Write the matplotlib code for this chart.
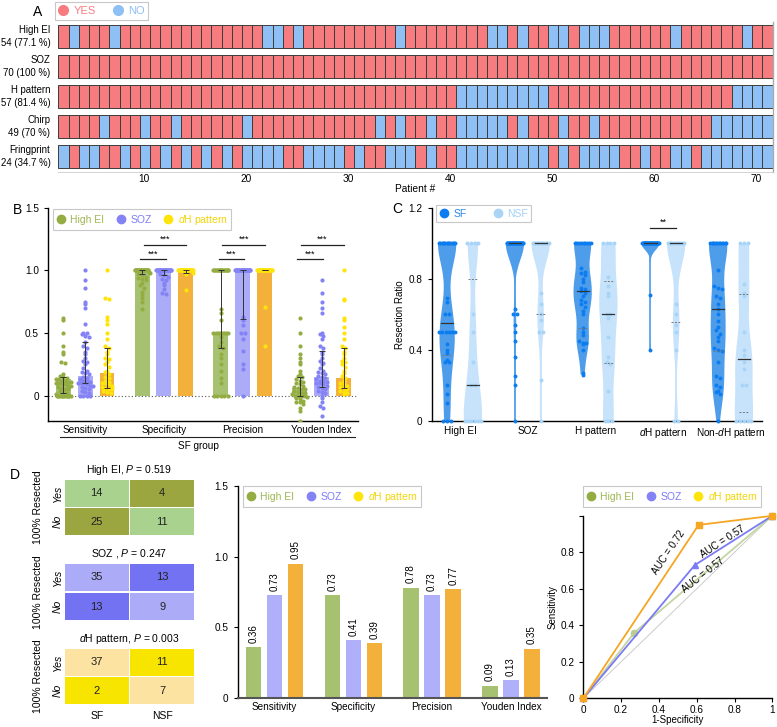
import numpy as np
import matplotlib
matplotlib.use('Agg')
import matplotlib.pyplot as plt
from matplotlib.lines import Line2D
from matplotlib.patches import Rectangle

plt.rcParams['font.family'] = ['Liberation Sans', 'DejaVu Sans']
plt.rcParams['mathtext.fontset'] = 'custom'
plt.rcParams['mathtext.rm'] = 'Liberation Sans'
plt.rcParams['mathtext.it'] = 'Liberation Sans:italic'
plt.rcParams['font.size'] = 7.2
plt.rcParams['axes.linewidth'] = 1.0
plt.rcParams['xtick.major.size'] = 3
plt.rcParams['ytick.major.size'] = 3
plt.rcParams['xtick.major.width'] = 0.8
plt.rcParams['ytick.major.width'] = 0.8

# ======================= DATA =======================
# Panel A: 1 = YES, 0 = NO, patients 1..70
patients = np.arange(1, 71)
a_rows = ['High EI', 'SOZ', 'H pattern', 'Chirp', 'Fringprint']
a_counts = ['54 (77.1 %)', '70 (100 %)', '57 (81.4 %)', '49 (70 %)', '24 (34.7 %)']
a_high_ei = [1,0,1,1,1,0,1,1,1,1, 1,1,1,1,1,1,1,1,1,1, 0,0,1,0,1,1,1,1,1,1,
             1,1,1,0,1,1,1,1,1,1, 1,1,0,0,1,0,1,1,0,0, 1,0,0,0,1,1,1,1,1,1,
             0,1,1,1,1,1,1,0,1,1]
a_soz = [1,1,1,1,1,1,1,1,1,1, 1,1,1,1,1,1,1,1,1,1, 1,1,1,1,1,1,1,1,1,1,
         1,1,1,1,1,1,1,1,1,1, 1,1,1,1,1,1,1,1,1,1, 1,1,1,1,1,1,1,1,1,1,
         1,1,1,1,1,1,1,1,1,1]
a_h_pattern = [1,1,1,1,1,1,1,1,1,1, 1,1,1,1,1,1,1,1,1,1, 1,1,1,1,1,1,1,1,1,1,
               1,1,1,1,1,1,1,1,1,0, 0,0,0,0,0,0,0,0,1,1, 1,1,1,1,1,1,1,1,1,1,
               1,1,1,1,1,1,0,0,0,0]
a_chirp = [1,1,1,1,0,1,1,1,0,1, 1,0,1,1,1,1,1,1,0,1, 1,1,1,1,1,1,1,1,1,1,
           1,0,1,0,1,1,0,1,1,0, 0,0,0,0,1,0,1,1,1,0, 1,1,0,1,1,1,1,1,1,1,
           1,1,1,1,0,0,0,0,0,0]
a_fringprint = [0,1,0,0,1,1,0,1,0,1, 0,1,0,1,0,1,0,1,0,0, 0,0,1,1,0,0,0,0,1,0,
                1,1,0,0,0,1,0,1,1,0, 0,0,0,0,0,0,0,0,1,0, 1,0,0,0,0,1,1,0,1,1,
                0,0,1,0,0,0,0,0,0,0]

# Panel B: SF group, per-patient metrics
b_metrics = ['Sensitivity', 'Specificity', 'Precision', 'Youden Index']
b_bar_ei = [0.13, 0.98, 0.50, 0.06]
b_bar_soz = [0.157, 1.0, 1.0, 0.15]
b_bar_dh = [0.183, 1.0, 1.0, 0.143]
b_err_lo_ei = [0.02, 0.97, 0.38, 0.0]
b_err_hi_ei = [0.15, 1.0, 1.0, 0.15]
b_err_lo_soz = [0.10, 0.96, 0.61, 0.07]
b_err_hi_soz = [0.43, 1.0, 1.0, 0.36]
b_err_lo_dh = [0.06, 0.98, 1.0, 0.06]
b_err_hi_dh = [0.38, 1.0, 1.0, 0.38]
sens_ei = [0.62, 0.6, 0.5, 0.4, 0.35, 0.33, 0.27, 0.26, 0.17, 0.16, 0.15, 0.14, 0.13, 0.13, 0.12,
           0.12, 0.11, 0.11, 0.1, 0.1, 0.1, 0.09, 0.09, 0.08, 0.08, 0.07, 0.06, 0.05, 0.05, 0.04,
           0.03, 0.02, 0.01, 0.0, 0.0, 0.0, 0.0, 0.0, 0.0, 0.0, 0.0, 0.0, 0.0, 0.0, 0.0]
sens_soz = [1.0, 0.92, 0.86, 0.75, 0.73, 0.7, 0.57, 0.5, 0.5, 0.49, 0.48, 0.47, 0.43, 0.4, 0.38,
            0.35, 0.33, 0.3, 0.28, 0.27, 0.25, 0.22, 0.2, 0.19, 0.18, 0.17, 0.15, 0.14, 0.13, 0.12,
            0.12, 0.11, 0.1, 0.1, 0.1, 0.09, 0.08, 0.08, 0.07, 0.06, 0.05, 0.04, 0.03, 0.02, 0.0,
            0.0, 0.0, 0.0]
sens_dh = [1.0, 0.78, 0.77, 0.63, 0.6, 0.57, 0.5, 0.45, 0.4, 0.38, 0.35, 0.33, 0.3, 0.29, 0.27,
           0.25, 0.23, 0.2, 0.19, 0.17, 0.15, 0.14, 0.12, 0.11, 0.1, 0.1, 0.09, 0.08, 0.07, 0.06,
           0.05, 0.05, 0.04, 0.03, 0.02]
spec_ei = [1.0, 1.0, 1.0, 1.0, 1.0, 1.0, 1.0, 1.0, 1.0, 1.0, 1.0, 1.0, 1.0, 1.0, 1.0, 1.0, 1.0,
           1.0, 1.0, 1.0, 1.0, 1.0, 1.0, 1.0, 1.0, 0.99, 0.98, 0.97, 0.96, 0.95, 0.94, 0.93, 0.92,
           0.9, 0.88, 0.86, 0.83, 0.8, 0.78, 0.75, 0.69]
spec_soz = [1.0, 1.0, 1.0, 1.0, 1.0, 1.0, 1.0, 1.0, 1.0, 1.0, 1.0, 1.0, 1.0, 1.0, 1.0, 1.0, 1.0,
            1.0, 1.0, 1.0, 1.0, 1.0, 1.0, 1.0, 1.0, 1.0, 1.0, 1.0, 1.0, 1.0, 0.97, 0.96, 0.95,
            0.93, 0.92, 0.9, 0.88, 0.85, 0.82, 0.81]
spec_dh = [1.0, 1.0, 1.0, 1.0, 1.0, 1.0, 1.0, 1.0, 1.0, 1.0, 1.0, 1.0, 1.0, 1.0, 1.0, 1.0, 1.0,
           1.0, 1.0, 1.0, 1.0, 1.0, 1.0, 1.0, 1.0, 1.0, 1.0, 1.0, 1.0, 1.0, 0.98, 0.97, 0.84]
prec_ei = [1.0, 1.0, 1.0, 1.0, 1.0, 1.0, 1.0, 1.0, 1.0, 1.0, 1.0, 1.0, 1.0, 1.0, 1.0, 1.0, 1.0,
           1.0, 0.69, 0.66, 0.6, 0.5, 0.5, 0.5, 0.5, 0.5, 0.5, 0.5, 0.5, 0.47, 0.43, 0.4, 0.38,
           0.33, 0.3, 0.25, 0.2, 0.14, 0.1, 0.0, 0.0, 0.0, 0.0, 0.0]
prec_soz = [1.0, 1.0, 1.0, 1.0, 1.0, 1.0, 1.0, 1.0, 1.0, 1.0, 1.0, 1.0, 1.0, 1.0, 1.0, 1.0, 1.0,
            1.0, 1.0, 1.0, 1.0, 1.0, 1.0, 1.0, 1.0, 1.0, 1.0, 1.0, 1.0, 1.0, 0.63, 0.6, 0.56, 0.5,
            0.5, 0.45, 0.36, 0.25, 0.21, 0.0]
prec_dh = [1.0, 1.0, 1.0, 1.0, 1.0, 1.0, 1.0, 1.0, 1.0, 1.0, 1.0, 1.0, 1.0, 1.0, 1.0, 1.0, 1.0,
           1.0, 1.0, 1.0, 1.0, 1.0, 1.0, 1.0, 1.0, 1.0, 1.0, 1.0, 1.0, 1.0, 0.71, 0.4]
youd_ei = [0.62, 0.5, 0.4, 0.33, 0.3, 0.27, 0.25, 0.2, 0.17, 0.16, 0.15, 0.13, 0.12, 0.11, 0.1,
           0.09, 0.08, 0.07, 0.06, 0.05, 0.05, 0.04, 0.03, 0.02, 0.02, 0.01, 0.0, 0.0, 0.0, 0.0,
           0.0, -0.01, -0.02, -0.03, -0.04, -0.05, -0.05, -0.07, -0.1, -0.12, -0.2]
youd_soz = [0.92, 0.82, 0.75, 0.7, 0.66, 0.5, 0.49, 0.48, 0.45, 0.4, 0.38, 0.35, 0.33, 0.3, 0.28,
            0.26, 0.25, 0.22, 0.2, 0.19, 0.18, 0.17, 0.16, 0.15, 0.14, 0.13, 0.12, 0.12, 0.11,
            0.1, 0.1, 0.09, 0.08, 0.07, 0.06, 0.05, 0.04, 0.03, 0.02, 0.0, -0.02, -0.05, -0.08,
            -0.1, -0.16]
youd_dh = [1.0, 0.77, 0.76, 0.62, 0.6, 0.55, 0.5, 0.45, 0.4, 0.38, 0.35, 0.33, 0.3, 0.28, 0.27,
           0.25, 0.23, 0.2, 0.18, 0.16, 0.14, 0.12, 0.1, 0.09, 0.08, 0.07, 0.06, 0.05, 0.04, 0.03,
           0.02, 0.01]

# Panel C: resection ratio
c_cats = ['High EI', 'SOZ', 'H pattern', r'$d$H pattern', r'Non-$d$H pattern']
rr_ei_sf = [1.0, 1.0, 1.0, 1.0, 1.0, 1.0, 1.0, 1.0, 1.0, 1.0, 1.0, 1.0, 1.0, 1.0, 0.69, 0.67,
            0.6, 0.6, 0.5, 0.5, 0.5, 0.5, 0.5, 0.5, 0.43, 0.4, 0.38, 0.34, 0.33, 0.33, 0.2,
            0.15, 0.1, 0.0, 0.0, 0.0]
rr_ei_nsf = [1.0, 1.0, 1.0, 1.0, 0.6, 0.5, 0.33, 0.2, 0.2, 0.0, 0.0, 0.0, 0.0, 0.0, 0.0]
rr_soz_sf = [1.0, 1.0, 1.0, 1.0, 1.0, 1.0, 1.0, 1.0, 1.0, 1.0, 1.0, 1.0, 1.0, 1.0, 1.0, 1.0, 1.0,
             1.0, 1.0, 1.0, 1.0, 1.0, 1.0, 1.0, 1.0, 1.0, 1.0, 1.0, 1.0, 1.0, 1.0, 1.0, 1.0, 1.0,
             1.0, 0.63, 0.6, 0.6, 0.54, 0.5, 0.45, 0.36, 0.25, 0.2, 0.0]
rr_soz_nsf = [1.0, 1.0, 1.0, 1.0, 1.0, 1.0, 1.0, 1.0, 1.0, 1.0, 1.0, 1.0, 1.0, 0.72, 0.66, 0.6,
              0.57, 0.5, 0.5, 0.23, 0.0]
rr_h_sf = [1.0, 1.0, 1.0, 1.0, 1.0, 1.0, 1.0, 1.0, 1.0, 1.0, 0.86, 0.84, 0.83, 0.82, 0.8, 0.78,
           0.75, 0.74, 0.73, 0.72, 0.7, 0.68, 0.67, 0.66, 0.64, 0.62, 0.6, 0.52, 0.5, 0.48, 0.45,
           0.44, 0.44, 0.43, 0.4, 0.27, 0.26]
rr_h_nsf = [1.0, 1.0, 1.0, 1.0, 0.81, 0.76, 0.72, 0.7, 0.6, 0.6, 0.58, 0.47, 0.36, 0.33, 0.32,
            0.17, 0.0, 0.0, 0.0]
rr_dh_sf = [1.0, 1.0, 1.0, 1.0, 1.0, 1.0, 1.0, 1.0, 1.0, 1.0, 1.0, 1.0, 1.0, 1.0, 1.0, 1.0, 1.0,
            1.0, 1.0, 1.0, 1.0, 1.0, 1.0, 1.0, 1.0, 1.0, 1.0, 1.0, 1.0, 1.0, 1.0, 1.0, 1.0, 1.0,
            1.0, 1.0, 1.0, 0.71, 0.4]
rr_dh_nsf = [1.0, 1.0, 1.0, 1.0, 1.0, 1.0, 1.0, 1.0, 1.0, 1.0, 1.0, 0.66, 0.6, 0.54, 0.5, 0.4,
             0.0, 0.0]
rr_ndh_sf = [1.0, 1.0, 1.0, 1.0, 1.0, 1.0, 1.0, 1.0, 1.0, 1.0, 1.0, 1.0, 0.85, 0.76, 0.75, 0.74,
             0.7, 0.69, 0.66, 0.63, 0.6, 0.56, 0.53, 0.51, 0.49, 0.47, 0.45, 0.41, 0.4, 0.39,
             0.33, 0.25, 0.24, 0.2, 0.19, 0.17, 0.16, 0.15, 0.0]
rr_ndh_nsf = [1.0, 1.0, 1.0, 0.77, 0.72, 0.7, 0.5, 0.4, 0.37, 0.33, 0.29, 0.2, 0.2, 0.0, 0.0,
              0.0, 0.0, 0.0]

# Panel D: contingency tables
d_tab_titles = [r'High EI, $P$ = 0.519', r'SOZ , $P$ = 0.247', r'$d$H pattern, $P$ = 0.003']
d_tab_ei = [[14, 4], [25, 11]]
d_tab_soz = [[35, 13], [13, 9]]
d_tab_dh = [[37, 11], [2, 7]]
d_cols = ['SF', 'NSF']
d_rows = ['Yes', 'No']

# Panel D: bar chart
d_bar_ei = [0.36, 0.73, 0.78, 0.09]
d_bar_soz = [0.73, 0.41, 0.73, 0.13]
d_bar_dh = [0.95, 0.39, 0.77, 0.35]

# Panel D: ROC
roc_fpr_ei = [0, 0.27, 1]
roc_tpr_ei = [0, 0.36, 1]
roc_fpr_soz = [0, 0.59, 1]
roc_tpr_soz = [0, 0.73, 1]
roc_fpr_dh = [0, 0.61, 1]
roc_tpr_dh = [0, 0.95, 1]
auc_labels = ['AUC = 0.57', 'AUC = 0.57', 'AUC = 0.72']

# ======================= STYLE =======================
RED, BLUE = '#F77C7F', '#8EBFF5'
G_BAR, S_BAR, O_BAR = '#A6C271', '#ABABF8', '#F3B13C'
G_DOT, S_DOT, Y_DOT = '#93AD43', '#8383F6', '#FFE40A'
G_TXT, S_TXT, Y_TXT = '#9DB651', '#7C7CF6', '#F2D60A'
SF_FILL, SF_DOT = '#4D9DEB', '#0B7DF0'
NSF_FILL, NSF_DOT = '#C6E3FB', '#A8D4F8'
lab3 = ['High EI', 'SOZ', r'$d$H pattern']

W, H = 777, 727
fig = plt.figure(figsize=(W / 100, H / 100), dpi=100)


def ax_px(l, t, r, b):
    return fig.add_axes([l / W, 1 - b / H, (r - l) / W, (b - t) / H])


def legend_px(ax, handles, labels, colors, x, y, fs=7.5, colsp=1.2):
    lg = ax.legend(handles, labels, loc='upper left', bbox_to_anchor=(x / W, 1 - y / H),
                   bbox_transform=fig.transFigure, ncol=len(labels), frameon=True,
                   fancybox=False, edgecolor='#C8C8C8', framealpha=1, fontsize=fs,
                   handlelength=0.8, handletextpad=0.5, columnspacing=colsp, borderpad=0.35,
                   borderaxespad=0)
    lg.get_frame().set_linewidth(0.8)
    for t, c in zip(lg.get_texts(), colors):
        t.set_color(c)
    return lg


def dot(c, m='o', ms=6):
    return Line2D([], [], marker=m, color=c, ls='none', ms=ms)


def swarm(vals, step, halfw, binw):
    vals = np.asarray(vals, float)
    offs = np.zeros(len(vals))
    keys = np.round(vals / binw).astype(int)
    for k in np.unique(keys):
        idx = np.where(keys == k)[0]
        n = len(idx)
        s = step if n < 2 or (n - 1) * step <= 2 * halfw else 2 * halfw / (n - 1)
        offs[idx] = (np.arange(n) - (n - 1) / 2) * s
    return offs


# ======================= PANEL A =======================
axA = ax_px(58.3, 21.5, 772.5, 171.5)
rows = [a_high_ei, a_soz, a_h_pattern, a_chirp, a_fringprint]
for r, vals in enumerate(rows):
    cols = [RED if v else BLUE for v in vals]
    axA.bar(patients + 1.1, 0.77, bottom=r - 0.385, width=1.0, color=cols,
            edgecolor='#3C3C3C', linewidth=0.7)
    axA.text(-0.011, r, a_rows[r] + '\n' + a_counts[r], transform=axA.get_yaxis_transform(),
             ha='right', va='center', multialignment='right', fontsize=6.9, linespacing=1.3)
axA.set_xlim(1.6, 71.6)
axA.set_ylim(4.5, -0.5)
axA.set_yticks([])
axA.set_xticks([10, 20, 30, 40, 50, 60, 70])
axA.tick_params(axis='x', length=0, pad=1.5, labelsize=7.3)
axA.set_xlabel('Patient #', fontsize=7.3, labelpad=0)
for s in ['top', 'left']:
    axA.spines[s].set_visible(False)
axA.spines['right'].set_color('#AAAAAA')
axA.spines['bottom'].set_color('#CCCCCC')
axA.spines['bottom'].set_linewidth(0.6)
legend_px(axA, [dot(RED, ms=7), dot(BLUE, ms=7)], ['YES', 'NO'], [RED, BLUE], 55, 2,
          fs=8, colsp=1.6)
fig.text(38 / W, 1 - 12 / H, 'A', fontsize=10, ha='center', va='center')

# ======================= PANEL B =======================
axB = ax_px(48, 207.6, 358, 420.8)
xg = np.arange(4)
off = 0.278
bw = 0.19
b_sets = [
    (b_bar_ei, b_err_lo_ei, b_err_hi_ei, [sens_ei, spec_ei, prec_ei, youd_ei], G_BAR, G_DOT, -off),
    (b_bar_soz, b_err_lo_soz, b_err_hi_soz, [sens_soz, spec_soz, prec_soz, youd_soz], S_BAR, S_DOT, 0),
    (b_bar_dh, b_err_lo_dh, b_err_hi_dh, [sens_dh, spec_dh, prec_dh, youd_dh], O_BAR, Y_DOT, off),
]
axB.axhline(0, color='#555555', lw=0.8, ls=(0, (1, 2)), zorder=1)
for bars, lo, hi, pts, bc, dc, o in b_sets:
    axB.bar(xg + o, bars, width=bw, color=bc, zorder=2)
    for i in range(4):
        v = np.asarray(pts[i])
        xo = swarm(v, 0.045, 0.095, 0.03)
        axB.scatter(xg[i] + o + xo, v, s=9, color=dc, zorder=3, linewidths=0)
    mid = np.asarray(bars)
    axB.errorbar(xg + o, mid, yerr=[np.clip(mid - np.asarray(lo), 0, None),
                                    np.clip(np.asarray(hi) - mid, 0, None)],
                 fmt='none', ecolor='#333333', elinewidth=0.7, capsize=2.5, capthick=0.7, zorder=4)
# significance brackets
for g in [1, 2, 3]:
    for (x0, x1, yy) in [(g - off - 0.03, g + 0.02, 1.09), (g - off + 0.02, g + off, 1.205)]:
        axB.plot([x0, x1], [yy, yy], color='#222222', lw=0.9, clip_on=False)
        axB.text((x0 + x1) / 2, yy + 0.005, '***', ha='center', va='bottom', fontsize=6.5)
axB.set_xlim(-0.47, 3.46)
axB.set_ylim(-0.2, 1.5)
axB.set_yticks([0, 0.5, 1.0, 1.5])
axB.set_yticklabels(['0', '0.5', '1.0', '1.5'])
axB.set_xticks(xg)
axB.set_xticklabels(b_metrics)
axB.tick_params(axis='x', length=0, pad=3)
axB.tick_params(axis='y', labelsize=7.2)
for s in ['top', 'right']:
    axB.spines[s].set_visible(False)
fig.add_artist(Line2D([60 / W, 355 / W], [1 - 437 / H, 1 - 437 / H], color='#222222', lw=0.8))
fig.text(198 / W, 1 - 446 / H, 'SF group', ha='center', va='center', fontsize=7.2)
legend_px(axB, [dot(G_DOT), dot(S_DOT), dot(Y_DOT)], lab3, [G_TXT, S_TXT, Y_TXT], 53, 209)
fig.text(17 / W, 1 - 210 / H, 'B', fontsize=10, ha='center', va='center')

# ======================= PANEL C =======================
axC = ax_px(431.7, 207.7, 762, 420.7)
c_data = [(rr_ei_sf, rr_ei_nsf), (rr_soz_sf, rr_soz_nsf), (rr_h_sf, rr_h_nsf),
          (rr_dh_sf, rr_dh_nsf), (rr_ndh_sf, rr_ndh_nsf)]
voff = 0.19
for i, (sf, nsf) in enumerate(c_data):
    for data, o, fc, dc in [(sf, -voff, SF_FILL, SF_DOT), (nsf, voff, NSF_FILL, NSF_DOT)]:
        d = np.asarray(data, float)
        parts = axC.violinplot([d], positions=[i + o], widths=0.27, showextrema=False,
                               bw_method=0.35)
        for b in parts['bodies']:
            b.set_facecolor(fc)
            b.set_edgecolor('none')
            b.set_alpha(1)
            b.set_zorder(2)
        axC.plot([i + o, i + o], [d.min(), d.max()], color=fc, lw=1.2, zorder=2)
        xo = swarm(d, 0.055, 0.12, 0.025)
        axC.scatter(i + o + xo, d, s=8, color=dc, zorder=3, linewidths=0, clip_on=False)
        med = np.median(d)
        q1, q3 = np.percentile(d, [25, 75])
        axC.plot([i + o - 0.09, i + o + 0.09], [med, med], color='#333333', lw=0.9, zorder=4)
        for q in (q1, q3):
            if 0 < q < 1:
                axC.plot([i + o - 0.07, i + o + 0.07], [q, q], color='#777777', lw=0.7,
                         ls=(0, (2, 1.5)), zorder=4)
axC.plot([3 - voff, 3 + voff], [1.085, 1.085], color='#222222', lw=0.9, clip_on=False)
axC.text(3, 1.09, '**', ha='center', va='bottom', fontsize=6.5)
axC.set_xlim(-0.418, 4.457)
axC.set_ylim(0, 1.2)
axC.set_yticks([0, 0.4, 0.8, 1.2])
axC.set_yticklabels(['0', '0.4', '0.8', '1.2'])
axC.set_xticks(np.arange(5))
axC.set_xticklabels(c_cats)
axC.tick_params(axis='x', length=0, pad=4)
axC.set_ylabel('Resection Ratio', fontsize=7, labelpad=3)
for s in ['top', 'right']:
    axC.spines[s].set_visible(False)
legend_px(axC, [dot(SF_DOT), dot(NSF_DOT)], ['SF', 'NSF'], ['#2A88EE', '#A3D0F7'], 436, 205,
          colsp=2.6)
fig.text(397 / W, 1 - 209 / H, 'C', fontsize=10, ha='center', va='center')

# ======================= PANEL D: tables =======================
tab_cfg = [
    (d_tab_ei, 479, 536, '#A8D28E', '#9BA641'),
    (d_tab_soz, 563, 621, '#ABABF7', '#7272F2'),
    (d_tab_dh, 648, 705, '#FDE3A1', '#F7E500'),
]
for t, (tab, top, bot, light, dark) in enumerate(tab_cfg):
    ax = ax_px(64, top, 195, bot)
    ax.set_xlim(0, 2)
    ax.set_ylim(2, 0)
    ax.axis('off')
    for i in range(2):
        for j in range(2):
            c = light if i == j else dark
            ax.add_patch(Rectangle((j + 0.012, i + 0.03), 0.976, 0.94, color=c, lw=0))
            ax.text(j + 0.5, i + 0.5, str(tab[i][j]), ha='center', va='center', fontsize=8,
                    color='#222222')
    for i in range(2):
        ax.text(-0.1, i + 0.5, d_rows[i], rotation=90, ha='center', va='center', fontsize=7.5,
                style='italic')
    ax.text(-0.4, 1.0, '100% Resected', rotation=90, ha='center', va='center', fontsize=7.5)
    ax.text(1.0, -0.33, d_tab_titles[t], ha='center', va='center', fontsize=7.5)
    if t == 2:
        for j in range(2):
            ax.text(j + 0.5, 2.39, d_cols[j], ha='center', va='center', fontsize=7.5)
fig.text(15 / W, 1 - 475 / H, 'D', fontsize=10, ha='center', va='center')

# ======================= PANEL D: bar chart =======================
axD = ax_px(237.7, 485.7, 547, 698.3)
offd = 0.267
bwd = 0.197
for vals, c, o in [(d_bar_ei, G_BAR, -offd), (d_bar_soz, '#B0B0FA', 0), (d_bar_dh, O_BAR, offd)]:
    axD.bar(xg + o, vals, width=bwd, color=c)
    for xi, v in zip(xg + o, vals):
        axD.text(xi, v + 0.03, f'{v:.2f}', rotation=90, ha='center', va='bottom', fontsize=7)
axD.set_xlim(-0.467, 3.458)
axD.set_ylim(0, 1.5)
axD.set_yticks([0, 0.5, 1.0, 1.5])
axD.set_yticklabels(['0', '0.5', '1.0', '1.5'])
axD.set_xticks(xg)
axD.set_xticklabels(b_metrics)
axD.tick_params(axis='x', length=0, pad=3)
for s in ['top', 'right']:
    axD.spines[s].set_visible(False)
axD.spines['bottom'].set_color('#555555')
axD.spines['bottom'].set_linewidth(1.5)
legend_px(axD, [dot(G_DOT), dot(S_DOT), dot(Y_DOT)], lab3, [G_TXT, S_TXT, Y_TXT], 243, 486)

# ======================= PANEL D: ROC =======================
axR = ax_px(583.3, 515.8, 772.3, 698.3)
axR.plot([0, 1], [0, 1], color='#C4C4C4', lw=0.6, zorder=1)
axR.plot(roc_fpr_ei, roc_tpr_ei, color='#C3D5A0', lw=1.3, marker='o', ms=4.5,
         mfc='#B9CD90', mec='#B9CD90', clip_on=False, zorder=2)
axR.plot(roc_fpr_soz, roc_tpr_soz, color='#7B7BF5', lw=1.3, marker='^', ms=4.5,
         clip_on=False, zorder=3)
axR.plot(roc_fpr_dh, roc_tpr_dh, color='#F5A623', lw=1.3, marker='s', ms=4.5,
         clip_on=False, zorder=4)
axR.text(0.635, 0.676, auc_labels[0], rotation=38, ha='center', va='center', fontsize=7,
         rotation_mode='anchor')
axR.text(0.735, 0.858, auc_labels[1], rotation=33, ha='center', va='center', fontsize=7,
         rotation_mode='anchor')
axR.text(0.45, 0.80, auc_labels[2], rotation=56, ha='center', va='center', fontsize=7,
         rotation_mode='anchor')
axR.set_xlim(0, 1)
axR.set_ylim(0, 1)
axR.set_xticks([0, 0.2, 0.4, 0.6, 0.8, 1])
axR.set_xticklabels(['0', '0.2', '0.4', '0.6', '0.8', '1'])
axR.set_yticks([0, 0.2, 0.4, 0.6, 0.8, 1])
axR.set_yticklabels(['0', '0.2', '0.4', '0.6', '0.8', ''])
axR.tick_params(axis='x', pad=1.5)
axR.set_xlabel('1-Specificity', fontsize=7, labelpad=0)
axR.set_ylabel('Sensitivity', fontsize=7, labelpad=2)
for s in ['top', 'right']:
    axR.spines[s].set_visible(False)
legend_px(axR, [dot(G_DOT), dot(S_DOT), dot(Y_DOT)], lab3, [G_TXT, S_TXT, Y_TXT], 583, 486)

fig.savefig('out.png', dpi=100)
